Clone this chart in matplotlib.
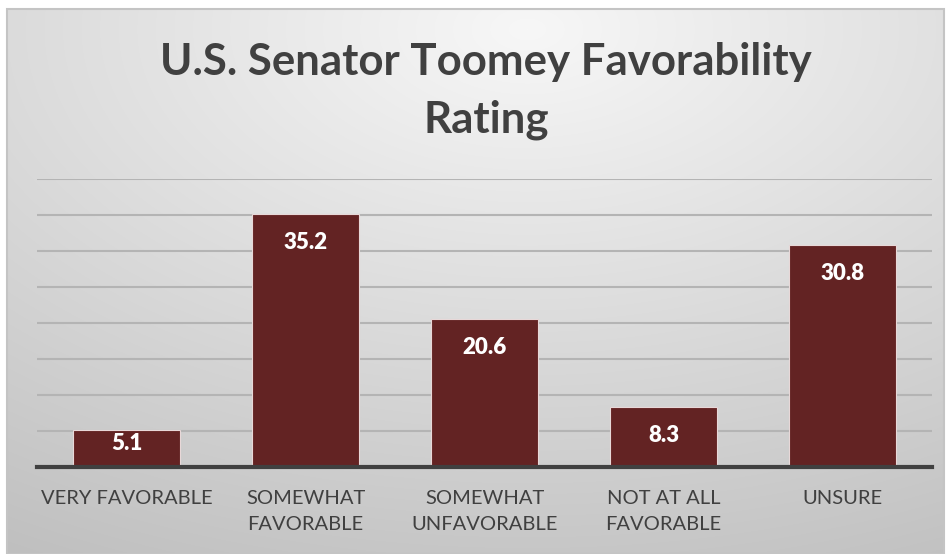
import numpy as np
import matplotlib.pyplot as plt
from matplotlib.patches import Rectangle

categories = ["VERY FAVORABLE", "SOMEWHAT\nFAVORABLE", "SOMEWHAT\nUNFAVORABLE",
              "NOT AT ALL\nFAVORABLE", "UNSURE"]
values = [5.1, 35.2, 20.6, 8.3, 30.8]
title = "U.S. Senator Toomey Favorability\nRating"

plt.rcParams['font.family'] = ['Lato', 'DejaVu Sans']

W, H = 950, 554
fig = plt.figure(figsize=(W / 100, H / 100), dpi=100)
fig.patch.set_facecolor('white')

# soft radial gray fill behind the chart
bg = fig.add_axes([7 / W, 0, (944 - 7) / W, (H - 9) / H])
yy, xx = np.mgrid[0:545, 0:937]
d = np.hypot((xx - 520) / 937, (yy - 20) / 545)
shade = 247 - 56 * d / d.max()
bg.imshow(np.dstack([shade] * 3) / 255, aspect='auto', extent=[0, 1, 0, 1], origin='upper')
bg.set_axis_off()
bg.add_patch(Rectangle((0, 0), 1, 1, transform=bg.transAxes, fill=False,
                       edgecolor='#c4c4c4', lw=1.5, clip_on=False))

ax = fig.add_axes([37 / W, (H - 467) / H, (932 - 37) / W, (467 - 179) / H])
ax.patch.set_alpha(0)
x = np.arange(len(values))
bars = ax.bar(x, values, width=0.6, color='#632323', edgecolor='#e8d8d8', lw=0.8, zorder=3)
ax.set_xlim(-0.5, len(values) - 0.5)
ax.set_ylim(0, 40)
ax.set_yticks(np.arange(5, 41, 5))
ax.yaxis.grid(True, color='#b4b4b4', lw=1.5, zorder=0)
ax.tick_params(axis='y', left=False, labelleft=False)
ax.tick_params(axis='x', bottom=False, pad=13)
ax.set_xticks(x)
ax.set_xticklabels(categories, fontsize=14.5, color='#404040', linespacing=1.65, va='top')
for s in ['top', 'right', 'left']:
    ax.spines[s].set_visible(False)
ax.spines['bottom'].set_color('#404040')
ax.spines['bottom'].set_linewidth(3)
ax.spines['bottom'].set_zorder(4)

# value labels just inside the bar tops; short bars get a smaller gap
for b, v in zip(bars, values):
    gap = 13 if v > 7 else 2
    ax.annotate(f"{v}", (b.get_x() + b.get_width() / 2, v), xytext=(0, -gap),
                textcoords='offset points', ha='center', va='top',
                color='white', fontsize=16, fontweight='heavy', zorder=5)

fig.text(486 / W, 1 - 91 / H, title, ha='center', va='center', fontsize=31.5,
         fontweight='bold', color='#404040', linespacing=1.5)

fig.savefig('out.png', dpi=100, facecolor='white')
